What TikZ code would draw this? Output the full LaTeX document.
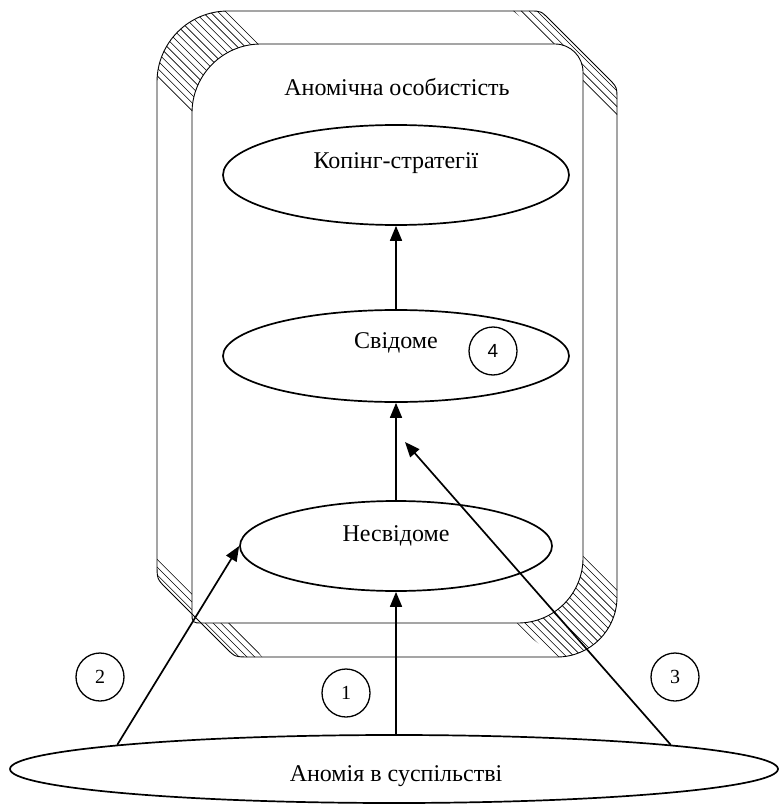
\documentclass[tikz,border=0pt]{standalone}
\usepackage{fontspec}
\setmainfont{Liberation Serif}
\newfontfamily\sansnum{Liberation Sans}
\usetikzlibrary{shapes.geometric,arrows.meta}
\begin{document}
\begin{tikzpicture}[x=1pt,y=-1pt,
  oval/.style={ellipse, draw, line width=1.7pt, inner sep=0pt},
  numcirc/.style={circle, draw, line width=1.3pt, minimum size=48pt, inner sep=0pt, font=\fontsize{20}{20}\selectfont},
  lbl/.style={font=\fontsize{24}{24}\selectfont, anchor=base, inner sep=0pt},
  arr/.style={line width=1.7pt, -{Triangle[length=15pt,width=12pt]}},
  boxline/.style={line width=0.9pt},
  hatch/.style={line width=0.6pt}]
\useasboundingbox (0,0) rectangle (779,805);
\def\outerpath{(157,82) arc[start angle=180,end angle=270,radius=71] -- (530,11) .. controls (541,11) .. (550,20) -- (608,78) .. controls (617,87) .. (617,100) -- (617,597) arc[start angle=0,end angle=90,radius=60] -- (250,657) .. controls (235,657) .. (226,648) -- (166,588) .. controls (157,579) .. (157,563) -- cycle}
\def\innerpath{(192,113) arc[start angle=180,end angle=270,radius=69] -- (555,44) arc[start angle=270,end angle=360,radius=28] -- (583,558) arc[start angle=0,end angle=90,radius=65] -- (203,623) .. controls (192,623) .. (192,612) -- cycle}
% hatching of the bevelled corners
\begin{scope}
  \clip (192,113) -- (140,67) -- (140,-5) -- (213,-5) -- (260,44) -- cycle
        (553,44) -- (500,0) -- (640,0) -- (640,137) -- (583,83) -- cycle
        (583,553) -- (640,607) -- (640,690) -- (575,673) -- (513,623) -- cycle
        (192,588) -- (140,536) -- (140,690) -- (275,673) -- (235,623) -- cycle;
  \clip \outerpath;
  \foreach \c in {-800,-792.2,...,800} \draw[hatch] (\c,0) -- (\c+805,805);
\end{scope}
\fill[white] \innerpath;
\draw[boxline] \outerpath;
\draw[boxline] \innerpath;
% ovals
\node[oval, minimum width=346pt, minimum height=100pt] (cop) at (396,175) {};
\node[oval, minimum width=346pt, minimum height=92pt] (svi) at (396,356) {};
\node[oval, minimum width=312pt, minimum height=90pt] (nes) at (396,546) {};
\node[oval, minimum width=768pt, minimum height=68pt] (anom) at (394,769) {};
% texts
\node[lbl] (t0) at (397,96) {Аномічна особистість};
\node[lbl] (t1) at (396,168) {Копінг-стратегії};
\node[lbl] (t2) at (396,348) {Свідоме};
\node[lbl] (t3) at (396,541) {Несвідоме};
\node[lbl] (t4) at (396,781) {Аномія в суспільстві};
% numbered circles
\node[numcirc] (c1) at (346,693) {1};
\node[numcirc] (c2) at (100,677) {2};
\node[numcirc] (c3) at (675,677) {3};
\node[numcirc, font=\sansnum\fontsize{19}{19}\selectfont] (c4) at (493,351) {4};
% arrows
\coordinate (tip3) at (405,442);
\draw[arr] (svi.north) -- (cop.south);
\draw[arr] (nes.north) -- (svi.south);
\draw[arr] (nes.south |- anom.north) -- (nes.south);
\draw[arr] (anom.175) -- (nes.west);
\draw[arr] (anom.5) -- (tip3);
\end{tikzpicture}
\end{document}
